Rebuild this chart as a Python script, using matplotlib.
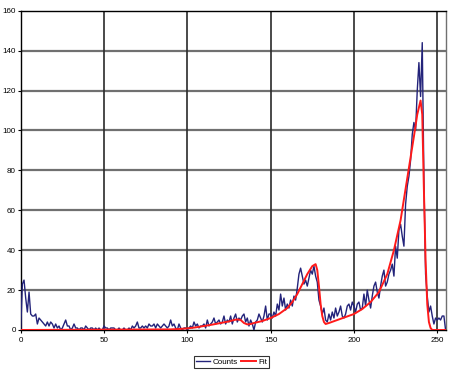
import numpy as np
import matplotlib
matplotlib.use("Agg")
import matplotlib.pyplot as plt

plt.rcParams["font.family"] = ["Liberation Sans", "DejaVu Sans"]

# measured counts per channel 0..255
counts = [
    0, 23, 25, 16, 9, 19, 8, 7, 7, 8, 3, 6, 5, 4, 3, 2, 4, 2, 4, 3,
    1, 3, 1, 2, 0, 1, 3, 5, 2, 2, 0, 1, 3, 1, 1, 0, 1, 1, 0, 2,
    1, 0, 1, 1, 0, 1, 0, 1, 0, 0,
    2, 1, 1, 0, 1, 1, 1, 0, 0, 1, 0, 0, 1, 0, 0, 1, 0, 2, 1, 2,
    4, 1, 1, 2, 1, 2, 1, 3, 2, 2, 3, 1, 3, 2, 1, 2, 3, 2, 1, 2,
    5, 2, 3, 1, 0, 3, 1, 0, 1, 1,
    0, 1, 2, 1, 4, 2, 3, 1, 2, 2, 3, 1, 5, 2, 3, 4, 6, 3, 4, 5,
    3, 4, 7, 3, 5, 4, 7, 3, 6, 8, 4, 6, 5, 7, 8, 4, 6, 2, 5, 3,
    0, 4, 5, 8, 6, 4, 7, 12, 5, 8,
    8, 6, 9, 7, 13, 10, 18, 12, 16, 10, 13, 11, 15, 12, 17, 15, 21, 28, 31, 27,
    23, 25, 22, 26, 30, 28, 32, 27, 24, 15, 12, 8, 11, 5, 4, 8, 5, 9, 6, 11,
    7, 9, 12, 7, 6, 8, 12, 13, 10, 14,
    12, 9, 13, 14, 10, 11, 18, 12, 20, 15, 11, 17, 22, 24, 19, 16, 22, 27, 30, 22,
    24, 28, 30, 33, 27, 42, 36, 50, 53, 47, 42, 63, 72, 77, 85, 98, 104, 100, 120, 134,
    117, 144, 75, 28, 17, 9, 12, 7, 3, 6, 5, 6, 5, 7, 7, 0,
]
channels = np.arange(len(counts))

# fitted curve, read at knots
fit_x = [0, 90, 95, 100, 105, 110, 115, 120, 125, 128, 130, 132, 134, 136, 138,
         140, 145, 150, 155, 160, 163, 166, 169, 172, 175, 177, 178, 179, 180,
         181, 182, 183, 185, 190, 195, 200, 205, 210, 215, 220, 224, 228, 232,
         236, 238, 240, 241, 242, 243, 244, 245, 246, 247, 255]
fit_y = [0, 0.3, 0.5, 0.8, 1.3, 2.0, 2.7, 3.5, 4.3, 5.0, 5.3, 5.0, 3.5, 2.8, 3.0,
         3.5, 4.5, 6.0, 8.0, 11, 14, 18, 23, 28, 32, 33, 30, 22, 13,
         7, 4, 3, 3.5, 5, 6.5, 8, 10.5, 14, 19, 28, 40, 55, 76,
         97, 108, 115, 108, 70, 35, 13, 4, 1, 0, 0]

fig = plt.figure(figsize=(4.57, 3.77), dpi=100)
ax = fig.add_axes([0.0453, 0.1247, 0.9297, 0.8469])

for yv in range(20, 160, 20):
    ax.axhline(yv, color="#707070", lw=1.6, zorder=1)
for xv in [50, 100, 150, 200, 250]:
    ax.axvline(xv, color="#2a2a2a", lw=1.2, zorder=1)

ax.plot(channels, counts, color="#23237a", lw=1.0, label="Counts", zorder=3)
ax.plot(fit_x, fit_y, color="#ff1a1a", lw=1.4, label="Fit", zorder=4)

ax.set_xlim(0, 255)
ax.set_ylim(0, 160)
ax.set_xticks([0, 50, 100, 150, 200, 250])
ax.set_yticks(range(0, 161, 20))
ax.tick_params(labelsize=5.8, length=2, width=0.8, pad=1.5)
ax.tick_params(axis="x", pad=3)
for s in ax.spines.values():
    s.set_color("black")
    s.set_linewidth(1.0)
ax.spines["right"].set_color("#707070")

leg = fig.legend(loc="center", bbox_to_anchor=(0.506, 0.040), ncol=2,
                 fontsize=5.8, frameon=True, fancybox=False, handlelength=1.8,
                 handletextpad=0.3, columnspacing=0.4, borderpad=0.25,
                 borderaxespad=0)
leg.get_frame().set_edgecolor("black")
leg.get_frame().set_linewidth(0.8)

fig.savefig("out.png", dpi=100)
